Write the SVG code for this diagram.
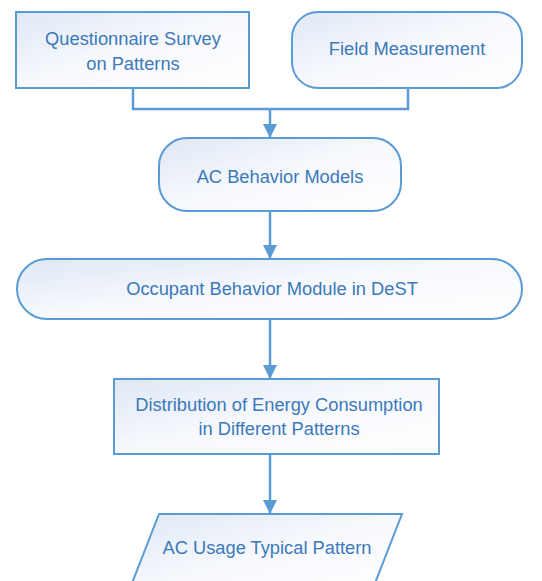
<svg xmlns="http://www.w3.org/2000/svg" width="542" height="581" viewBox="0 0 542 581">
<defs>
<linearGradient id="g" x1="0" y1="0" x2="1" y2="1">
<stop offset="0" stop-color="#dfe8f5"/>
<stop offset="0.5" stop-color="#f7f9fd"/>
<stop offset="1" stop-color="#ffffff"/>
</linearGradient>
<marker id="arr" viewBox="0 0 14 14" refX="14" refY="7" markerWidth="14" markerHeight="14" markerUnits="userSpaceOnUse" orient="auto">
<path d="M0,0 L14,7 L0,14 Z" fill="#5b9bd5"/>
</marker>
</defs>
<style>
.n{fill:url(#g);stroke:#5b9bd5;stroke-width:2}
.t{font-family:"Liberation Sans",Arial,sans-serif;font-size:18.3px;fill:#3b79ba;text-anchor:middle}
.c{fill:none;stroke:#5b9bd5;stroke-width:2.5}
</style>
<rect width="542" height="581" fill="#ffffff"/>
<g id="connectors">
<path class="c" d="M133,88 V109 H408 V88"/>
<path class="c" d="M270,109 V138" marker-end="url(#arr)"/>
<path class="c" d="M270,211 V259" marker-end="url(#arr)"/>
<path class="c" d="M270,319 V379" marker-end="url(#arr)"/>
<path class="c" d="M270,454 V514" marker-end="url(#arr)"/>
</g>
<g id="questionnaire">
<rect class="n" x="16" y="12" width="233" height="76"/>
<text class="t" x="133" y="45">Questionnaire Survey</text>
<text class="t" x="133" y="70">on Patterns</text>
</g>
<g id="field">
<rect class="n" x="292" y="12" width="230" height="76" rx="26" ry="26"/>
<text class="t" x="407" y="55">Field Measurement</text>
</g>
<g id="acmodels">
<rect class="n" x="159" y="138" width="242" height="73" rx="28" ry="28"/>
<text class="t" x="280" y="183">AC Behavior Models</text>
</g>
<g id="occupant">
<rect class="n" x="17" y="259" width="505" height="60" rx="30" ry="30"/>
<text class="t" x="272" y="295">Occupant Behavior Module in DeST</text>
</g>
<g id="distribution">
<rect class="n" x="114" y="379" width="325" height="75"/>
<text class="t" x="279" y="411">Distribution of Energy Consumption</text>
<text class="t" x="279" y="435">in Different Patterns</text>
</g>
<g id="typical">
<polygon class="n" points="159,514 402,514 370,596 127,596"/>
<text class="t" x="267" y="554">AC Usage Typical Pattern</text>
</g>
</svg>
